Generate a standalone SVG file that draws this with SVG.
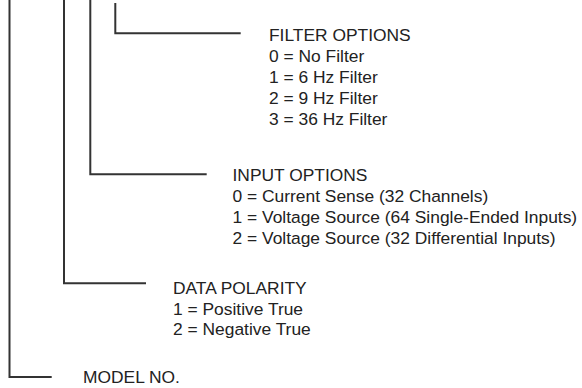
<svg xmlns="http://www.w3.org/2000/svg" width="582" height="388" viewBox="0 0 582 388">
<style>
.ln{fill:none;stroke:#333;stroke-width:2;stroke-linecap:butt}
text{font-family:"Liberation Sans",Arial,sans-serif;font-size:17.4px;fill:#222}
</style>
<rect width="582" height="388" fill="#fff"/>
<g id="connectors">
<path class="ln" d="M115.3 3 V33.3 H240.7"/>
<path class="ln" d="M90.3 0 V174.3 H206.7"/>
<path class="ln" d="M64 0 V283.3 H146"/>
<path class="ln" d="M9.5 0 V377 H51.7"/>
</g>
<g id="filter-options">
<text x="269" y="41">FILTER OPTIONS</text>
<text x="269" y="62">0 = No Filter</text>
<text x="269" y="83">1 = 6 Hz Filter</text>
<text x="269" y="104">2 = 9 Hz Filter</text>
<text x="269" y="124.5">3 = 36 Hz Filter</text>
</g>
<g id="input-options">
<text x="232.5" y="181">INPUT OPTIONS</text>
<text x="232.5" y="202">0 = Current Sense (32 Channels)</text>
<text x="232.5" y="223">1 = Voltage Source (64 Single-Ended Inputs)</text>
<text x="232.5" y="244">2 = Voltage Source (32 Differential Inputs)</text>
</g>
<g id="data-polarity">
<text x="173" y="293.5">DATA POLARITY</text>
<text x="173" y="314.5">1 = Positive True</text>
<text x="173" y="335">2 = Negative True</text>
</g>
<g id="model-no">
<text x="83" y="383">MODEL NO.</text>
</g>
</svg>
